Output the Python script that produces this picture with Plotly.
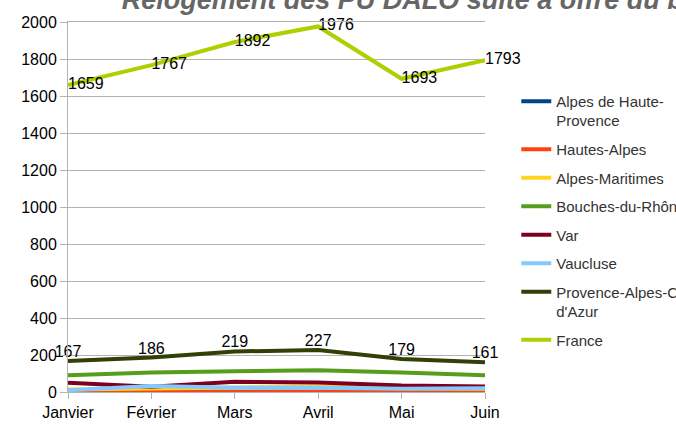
import plotly.graph_objects as go

mois = ["Janvier", "Février", "Mars", "Avril", "Mai", "Juin"]

alpes_haute_provence = [2, 1, 3, 2, 1, 2]
hautes_alpes = [1, 2, 1, 2, 1, 1]
alpes_maritimes = [14, 18, 25, 30, 20, 18]
bouches_du_rhone = [90, 105, 112, 118, 105, 90]
var = [50, 28, 55, 52, 35, 30]
vaucluse = [10, 32, 23, 23, 17, 20]
paca = [167, 186, 219, 227, 179, 161]
france = [1659, 1767, 1892, 1976, 1693, 1793]

series = [
    ("Alpes de Haute-<br>Provence", alpes_haute_provence, "#004586", None),
    ("Hautes-Alpes", hautes_alpes, "#ff420e", None),
    ("Alpes-Maritimes", alpes_maritimes, "#ffd320", None),
    ("Bouches-du-Rhône", bouches_du_rhone, "#579d1c", None),
    ("Var", var, "#7e0021", None),
    ("Vaucluse", vaucluse, "#83caff", None),
    ("Provence-Alpes-Côte<br>d'Azur", paca, "#314004", "top center"),
    ("France", france, "#aecf00", "middle right"),
]

fig = go.Figure()
for i, (nom, vals, couleur, pos) in enumerate(series):
    fig.add_trace(
        go.Scatter(
            x=mois,
            y=vals,
            name=nom,
            mode="lines+text" if pos else "lines",
            text=[str(v) for v in vals] if pos else None,
            textposition=pos,
            textfont=dict(family="Liberation Sans", size=16, color="#000000"),
            line=dict(color=couleur, width=4),
            legendgroup=f"g{i}",
            cliponaxis=False,
        )
    )

fig.update_layout(
    width=676,
    height=426,
    margin=dict(l=68, r=191, t=22, b=34, autoexpand=False),
    paper_bgcolor="white",
    plot_bgcolor="white",
    font=dict(family="Liberation Sans", color="#000000"),
    title=dict(
        text="<b><i>Relogement des PU DALO suite à offre du bailleur</i></b>",
        font=dict(family="Liberation Sans", size=27, color="#666666"),
        x=0.18,
        xanchor="left",
        xref="container",
        y=1.0,
        yanchor="middle",
        yref="container",
    ),
    showlegend=True,
    legend=dict(
        x=1.075,
        xanchor="left",
        y=0.83,
        yanchor="top",
        font=dict(family="Liberation Sans", size=15, color="#333333"),
        traceorder="grouped",
        tracegroupgap=6,
        valign="top",
        itemwidth=30,
        bgcolor="rgba(0,0,0,0)",
    ),
    xaxis=dict(
        range=[0, 5],
        showgrid=False,
        showline=True,
        linecolor="#b3b3b3",
        mirror=True,
        ticks="outside",
        ticklen=6,
        tickcolor="#b3b3b3",
        tickfont=dict(size=16),
        zeroline=False,
    ),
    yaxis=dict(
        range=[0, 2000],
        dtick=200,
        showgrid=True,
        gridcolor="#b3b3b3",
        showline=True,
        linecolor="#b3b3b3",
        ticks="outside",
        ticklen=7,
        tickcolor="#b3b3b3",
        tickfont=dict(size=16),
        zeroline=False,
    ),
)

fig.write_html(
    "out.html",
    config={"displayModeBar": False},
    post_script="document.body.style.margin='0';",
)
